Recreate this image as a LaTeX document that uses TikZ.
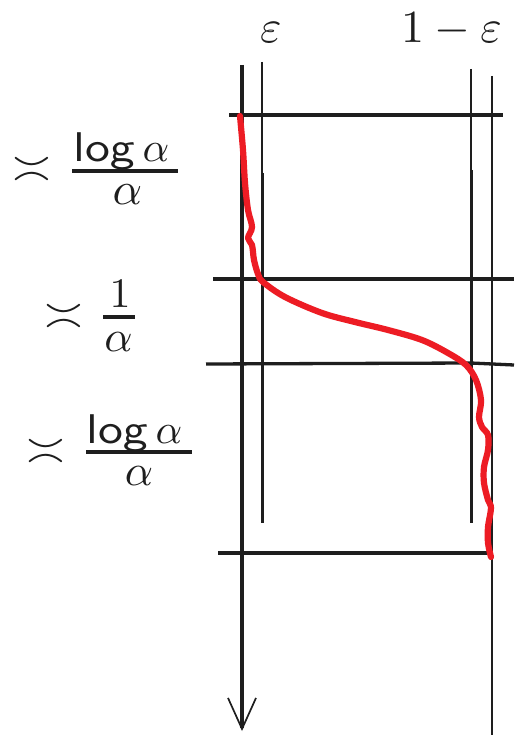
\documentclass[tikz,border=0pt]{standalone}
\usepackage{amsmath}
\usepackage{graphicx}
\usetikzlibrary{arrows.meta}
\definecolor{curvered}{RGB}{237,28,36}
\definecolor{ink}{RGB}{30,30,30}
\tikzset{
  axisline/.style={draw=ink, line width=4.4pt, -{Straight Barb[length=31pt,width=28pt,line width=1.7pt]}},
  thinline/.style={draw=ink, line width=3pt},
  hairline/.style={draw=ink, line width=2.2pt},
  hline/.style={draw=ink, line width=3.3pt},
  fracbar/.style={draw=ink, line width=3.2pt},
  redcurve/.style={draw=curvered, line width=6.2pt, line cap=round, line join=round},
  lab/.style={inner sep=0pt, text=ink},
}
\newcommand{\logalpha}{\scalebox{4.15}{\scalebox{1.2}[1]{$\mathsf{log}$}\,$\alpha$}}
\newcommand{\symasymp}{\scalebox{5}{$\asymp$}}
\begin{document}
\begin{tikzpicture}[x=1pt,y=-1pt]
\fill[white] (0,0) rectangle (514,735);
\useasboundingbox (0,0) rectangle (514,735);
% coordinates
\coordinate (axT) at (242,65);
\coordinate (axB) at (242,731);
\coordinate (eT) at (262,62);
\coordinate (eM) at (262,173);
\coordinate (eB) at (262,523);
\coordinate (oT) at (471,69);
\coordinate (oM) at (471,170);
\coordinate (oB) at (471,523);
\coordinate (rT) at (492,76);
\coordinate (rB) at (492,735);
\coordinate (h1L) at (229,115);
\coordinate (h1R) at (503,115);
\coordinate (h2L) at (213,279);
\coordinate (h2R) at (514,279);
\coordinate (h3L) at (206,364);
\coordinate (h3M) at (471,363);
\coordinate (h3R) at (514,365);
\coordinate (h4L) at (218,553);
\coordinate (h4R) at (492,553);
% lines
\draw[axisline] (axT) -- (axB);
\draw[hairline] (eT) -- (eM);
\draw[thinline] (eM) -- (eB);
\draw[hairline] (oT) -- (oM);
\draw[thinline] (oM) -- (oB);
\draw[hairline] (rT) -- (rB);
\draw[hline] (h1L) -- (h1R);
\draw[hline] (h2L) -- (h2R);
\draw[hline] (h3L) -- (h3M) -- (h3R);
\draw[hline] (h4L) -- (h4R);
% red curve
\draw[redcurve] plot[smooth, tension=0.55] coordinates {
 (240,116) (243,150) (245,183) (248,210) (252,227) (248,238) (252,245)
 (254,260) (258,274) (263,282) (285,297) (322,313) (355,322) (388,330)
 (422,340) (448,353) (466,365) (476,380) (481,400) (479,417) (482,427)
 (488,435) (488,450) (484,467) (484,483) (488,500) (491,508) (488,527)
 (488,543) (491,557)};
% top labels
\node[lab, anchor=base west] (eps) at (260,43) {\scalebox{4.6}{$\varepsilon$}};
\node[lab, anchor=base west] (oneeps) at (401,43) {\scalebox{4.6}{$1-\varepsilon$}};
% label 1
\node[lab] (s1) at (32,170) {\symasymp};
\node[lab, anchor=base west] (n1) at (73,162) {\logalpha};
\coordinate (b1L) at (72,171);
\coordinate (b1R) at (178,171);
\draw[fracbar] (b1L) -- (b1R);
\node[lab] (d1) at (127.5,195) {\scalebox{4.6}{$\alpha$}};
% label 2
\node[lab] (s2) at (63.5,316.5) {\symasymp};
\node[lab, anchor=base] (n2) at (120,307) {\scalebox{4.2}{$1$}};
\coordinate (b2L) at (103,317);
\coordinate (b2R) at (135,317);
\draw[fracbar] (b2L) -- (b2R);
\node[lab] (d2) at (118.5,342) {\scalebox{4.4}{$\alpha$}};
% label 3
\node[lab] (s3) at (45.5,451.5) {\symasymp};
\node[lab, anchor=base west] (n3) at (86,443) {\logalpha};
\coordinate (b3L) at (86,452);
\coordinate (b3R) at (192,452);
\draw[fracbar] (b3L) -- (b3R);
\node[lab] (d3) at (139,476) {\scalebox{4.4}{$\alpha$}};
\end{tikzpicture}
\end{document}
